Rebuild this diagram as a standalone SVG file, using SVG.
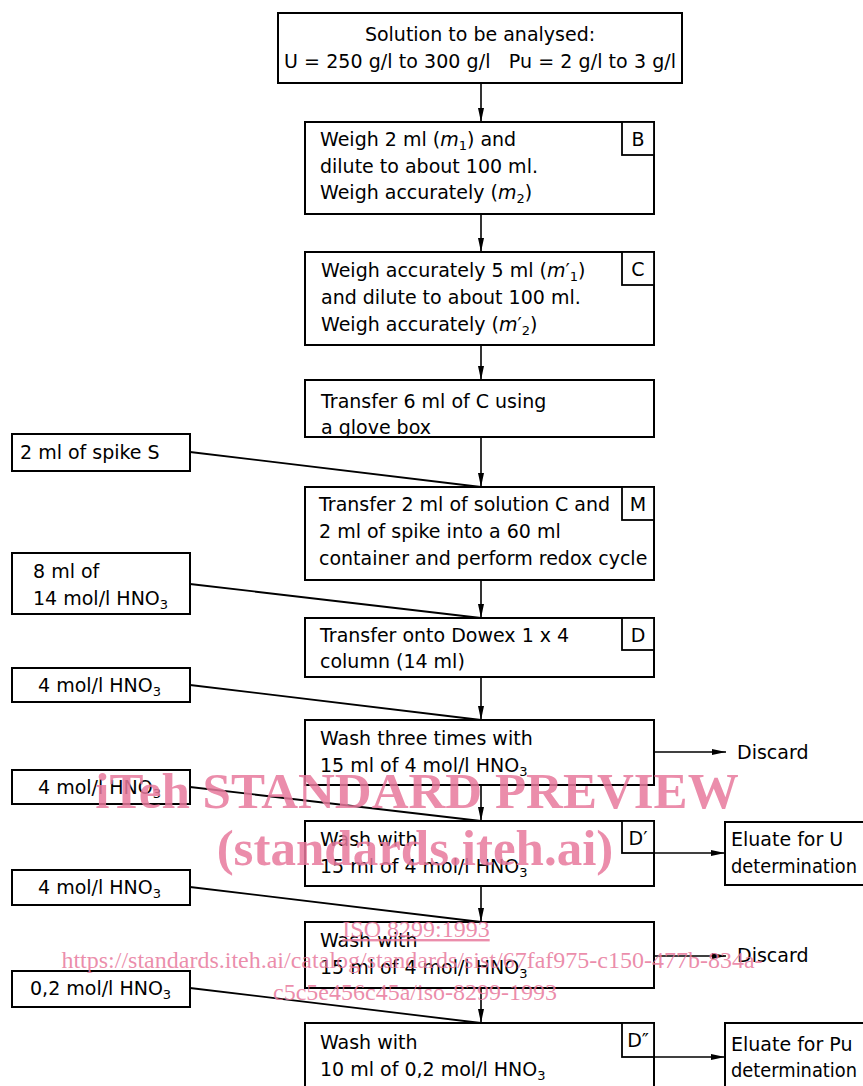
<svg xmlns="http://www.w3.org/2000/svg" width="863" height="1086" viewBox="0 0 863 1086">
<style>
.box{fill:#fff;stroke:#000;stroke-width:2}
.lbl{fill:#fff;stroke:#000;stroke-width:1.8}
.t{font-family:"DejaVu Sans","Liberation Sans",sans-serif;font-size:19px;fill:#000}
.c{text-anchor:middle}
.ln{stroke:#000;stroke-width:1.8;fill:none}
.ar{stroke:#000;stroke-width:1.6;fill:none;marker-end:url(#ah)}
.wm{font-family:"Liberation Serif","Times New Roman",serif;fill:#e8799c;fill-opacity:0.85}
.wb{font-size:51px;font-weight:bold}
.ws{font-size:24px}
</style>
<defs>
<marker id="ah" viewBox="0 0 14 6" refX="14" refY="3" markerWidth="14" markerHeight="6" markerUnits="userSpaceOnUse" orient="auto">
<path d="M0,0 L14,3 L0,6 Z" fill="#000"/>
</marker>
</defs>

<g id="connectors">
<line class="ar" x1="481" y1="83" x2="481" y2="122"/>
<line class="ar" x1="481" y1="214" x2="481" y2="252"/>
<line class="ar" x1="481" y1="345" x2="481" y2="380"/>
<line class="ar" x1="481" y1="437" x2="481" y2="487"/>
<line class="ar" x1="481" y1="580" x2="481" y2="618"/>
<line class="ar" x1="481" y1="677" x2="481" y2="720"/>
<line class="ar" x1="481" y1="785" x2="481" y2="821"/>
<line class="ar" x1="481" y1="886" x2="481" y2="922"/>
<line class="ar" x1="481" y1="988" x2="481" y2="1023"/>
<line class="ln" x1="190" y1="452" x2="481" y2="487"/>
<line class="ln" x1="190" y1="584" x2="481" y2="618"/>
<line class="ln" x1="190" y1="685" x2="481" y2="720"/>
<line class="ln" x1="190" y1="787" x2="481" y2="821"/>
<line class="ln" x1="190" y1="887" x2="481" y2="922"/>
<line class="ln" x1="190" y1="988" x2="481" y2="1023"/>
<line class="ar" x1="654" y1="752" x2="726" y2="752"/>
<line class="ar" x1="654" y1="853" x2="725" y2="853"/>
<line class="ar" x1="654" y1="956" x2="726" y2="956"/>
<line class="ar" x1="654" y1="1057" x2="725" y2="1057"/>
</g>

<g id="n-start">
<rect class="box" x="278" y="13" width="404" height="70"/>
<text class="t c" x="480" y="41">Solution to be analysed:</text>
<text class="t c" x="480" y="68" style="white-space:pre" textLength="392" lengthAdjust="spacing">U = 250 g/l to 300 g/l   Pu = 2 g/l to 3 g/l</text>
</g>

<g id="n-B">
<rect class="box" x="305" y="122" width="349" height="92"/>
<rect class="lbl" x="622" y="122" width="32" height="33"/>
<text class="t c" x="638" y="146">B</text>
<text class="t" x="320" y="146">Weigh 2 ml (<tspan font-style="italic">m</tspan><tspan font-size="13" dy="4">1</tspan><tspan dy="-4">) and</tspan></text>
<text class="t" x="320" y="173">dilute to about 100 ml.</text>
<text class="t" x="320" y="199">Weigh accurately (<tspan font-style="italic">m</tspan><tspan font-size="13" dy="4">2</tspan><tspan dy="-4">)</tspan></text>
</g>

<g id="n-C">
<rect class="box" x="305" y="252" width="349" height="93"/>
<rect class="lbl" x="622" y="252" width="32" height="33"/>
<text class="t c" x="638" y="276">C</text>
<text class="t" x="321" y="277">Weigh accurately 5 ml (<tspan font-style="italic">m</tspan>′<tspan font-size="13" dy="4">1</tspan><tspan dy="-4">)</tspan></text>
<text class="t" x="321" y="304">and dilute to about 100 ml.</text>
<text class="t" x="321" y="331">Weigh accurately (<tspan font-style="italic">m</tspan>′<tspan font-size="13" dy="4">2</tspan><tspan dy="-4">)</tspan></text>
</g>

<g id="n-transfer6">
<rect class="box" x="305" y="380" width="349" height="57"/>
<text class="t" x="321" y="408">Transfer 6 ml of C using</text>
<text class="t" x="321" y="434">a glove box</text>
</g>

<g id="n-spike">
<rect class="box" x="12" y="434" width="178" height="37"/>
<text class="t" x="20" y="459">2 ml of spike S</text>
</g>

<g id="n-M">
<rect class="box" x="305" y="487" width="349" height="93"/>
<rect class="lbl" x="622" y="487" width="32" height="33"/>
<text class="t c" x="638" y="511">M</text>
<text class="t" x="319" y="511">Transfer 2 ml of solution C and</text>
<text class="t" x="319" y="538">2 ml of spike into a 60 ml</text>
<text class="t" x="319" y="565">container and perform redox cycle</text>
</g>

<g id="n-hno3-14">
<rect class="box" x="12" y="553" width="178" height="61"/>
<text class="t" x="33" y="578">8 ml of</text>
<text class="t" x="33" y="605">14 mol/l HNO<tspan font-size="13" dy="4">3</tspan></text>
</g>

<g id="n-D">
<rect class="box" x="305" y="618" width="349" height="59"/>
<rect class="lbl" x="622" y="618" width="32" height="32"/>
<text class="t c" x="638" y="642">D</text>
<text class="t" x="320" y="642">Transfer onto Dowex 1 x 4</text>
<text class="t" x="320" y="668">column (14 ml)</text>
</g>

<g id="n-hno3-4a">
<rect class="box" x="12" y="668" width="178" height="34"/>
<text class="t" x="38" y="692">4 mol/l HNO<tspan font-size="13" dy="4">3</tspan></text>
</g>

<g id="n-wash3">
<rect class="box" x="305" y="720" width="349" height="65"/>
<text class="t" x="320" y="745">Wash three times with</text>
<text class="t" x="320" y="772">15 ml of 4 mol/l HNO<tspan font-size="13" dy="4">3</tspan></text>
</g>

<g id="n-discard1">
<text class="t" x="737" y="759">Discard</text>
</g>

<g id="n-hno3-4b">
<rect class="box" x="12" y="770" width="178" height="34"/>
<text class="t" x="38" y="794">4 mol/l HNO<tspan font-size="13" dy="4">3</tspan></text>
</g>

<g id="n-Dp">
<rect class="box" x="305" y="821" width="349" height="65"/>
<rect class="lbl" x="622" y="821" width="32" height="32"/>
<text class="t c" x="638" y="845">D′</text>
<text class="t" x="320" y="846">Wash with</text>
<text class="t" x="320" y="873">15 ml of 4 mol/l HNO<tspan font-size="13" dy="4">3</tspan></text>
</g>

<g id="n-eluateU">
<rect class="box" x="725" y="822" width="142" height="63"/>
<text class="t" x="731" y="846">Eluate for U</text>
<text class="t" x="731" y="873" textLength="126" lengthAdjust="spacingAndGlyphs">determination</text>
</g>

<g id="n-hno3-4c">
<rect class="box" x="12" y="870" width="178" height="35"/>
<text class="t" x="38" y="894">4 mol/l HNO<tspan font-size="13" dy="4">3</tspan></text>
</g>

<g id="n-wash-b">
<rect class="box" x="305" y="922" width="349" height="66"/>
<text class="t" x="320" y="947">Wash with</text>
<text class="t" x="320" y="974">15 ml of 4 mol/l HNO<tspan font-size="13" dy="4">3</tspan></text>
</g>

<g id="n-discard2">
<text class="t" x="737" y="962">Discard</text>
</g>

<g id="n-hno3-02">
<rect class="box" x="12" y="971" width="178" height="36"/>
<text class="t" x="30" y="995">0,2 mol/l HNO<tspan font-size="13" dy="4">3</tspan></text>
</g>

<g id="n-Dpp">
<rect class="box" x="305" y="1023" width="349" height="70"/>
<rect class="lbl" x="622" y="1023" width="32" height="34"/>
<text class="t c" x="638" y="1047">D″</text>
<text class="t" x="320" y="1049">Wash with</text>
<text class="t" x="320" y="1076">10 ml of 0,2 mol/l HNO<tspan font-size="13" dy="4">3</tspan></text>
</g>

<g id="n-eluatePu">
<rect class="box" x="725" y="1023" width="142" height="70"/>
<text class="t" x="731" y="1051">Eluate for Pu</text>
<text class="t" x="731" y="1077" textLength="126" lengthAdjust="spacingAndGlyphs">determination</text>
</g>

<g id="watermark">
<text class="wm wb" x="417" y="808" text-anchor="middle">iTeh STANDARD PREVIEW</text>
<text class="wm wb" x="415" y="865" text-anchor="middle">(standards.iteh.ai)</text>
<text class="wm ws" x="416" y="937" text-anchor="middle" text-decoration="underline">ISO 8299:1993</text>
<text class="wm ws" x="412" y="968" text-anchor="middle">https://standards.iteh.ai/catalog/standards/sist/67faf975-c150-477b-834a-</text>
<text class="wm ws" x="415" y="1000" text-anchor="middle">c5c5e456c45a/iso-8299-1993</text>
</g>
</svg>
